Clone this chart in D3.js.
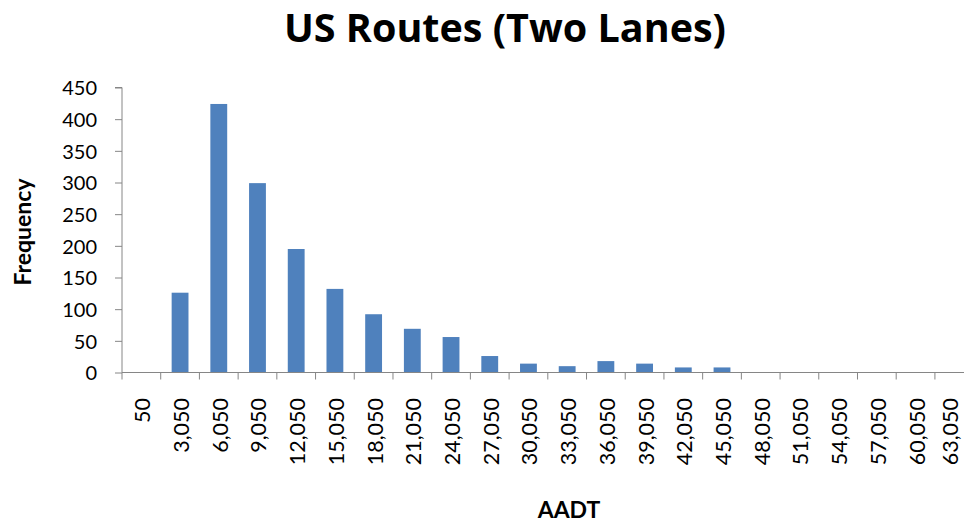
<!DOCTYPE html>
<html>
<head>
<meta charset="utf-8">
<script src="https://cdn.jsdelivr.net/npm/d3@7"></script>
<style>
  html, body { margin: 0; padding: 0; background: #fff; }
  svg { display: block; }
  text { font-family: Lato, "Open Sans", sans-serif; fill: #000; }
</style>
</head>
<body>
<svg id="chart" width="964" height="525"></svg>
<script>
// AADT bins (upper bin values) and their counts
const categories = ["50","3,050","6,050","9,050","12,050","15,050","18,050","21,050","24,050","27,050","30,050",
  "33,050","36,050","39,050","42,050","45,050","48,050","51,050","54,050","57,050","60,050","63,050"];
const frequency = [0,126,424,299,195,132,92,69,56,26,14,10,18,14,8,8,0,0,0,0,0,0];
const yTicks = [0,50,100,150,200,250,300,350,400,450];

const svg = d3.select("#chart");
const axisColor = "#868686";
const barColor = "#4F81BD";

const plotLeft = 122, plotBottom = 372.5, plotTop = 87.5;
const bandW = 38.71;

const x = d3.scaleBand()
  .domain(categories)
  .range([plotLeft, plotLeft + bandW * categories.length])
  .padding(0);

const y = d3.scaleLinear().domain([0, 450]).range([plotBottom, plotTop]);

// title
svg.append("text")
  .attr("x", 505).attr("y", 42)
  .attr("text-anchor", "middle")
  .style("font-family", "'Open Sans', sans-serif")
  .style("font-size", "39.5px").style("font-weight", "bold")
  .text("US Routes (Two Lanes)");

// y axis
const yAxis = svg.append("g")
  .attr("transform", `translate(${plotLeft},0)`)
  .call(d3.axisLeft(y).tickValues(yTicks).tickSize(7).tickPadding(18).tickFormat(d3.format("d")));
yAxis.select(".domain").attr("stroke", axisColor).attr("d", `M-7,${plotTop}H0V${plotBottom}`);
yAxis.selectAll(".tick line").attr("stroke", axisColor);
yAxis.selectAll(".tick text").style("font-size", "20px").style("font-family", "Lato, sans-serif").attr("fill", "#000").attr("dy", "0.36em");

// bars
svg.append("g").selectAll("rect")
  .data(categories.map((c, i) => ({ c, v: frequency[i] })))
  .join("rect")
  .attr("x", d => x(d.c) + x.bandwidth() * (1 - 0.435) / 2)
  .attr("width", x.bandwidth() * 0.435)
  .attr("y", d => y(d.v))
  .attr("height", d => y(0) - y(d.v))
  .attr("fill", barColor);

// x axis line and ticks on bin boundaries
const xg = svg.append("g");
xg.append("line")
  .attr("x1", plotLeft).attr("x2", 964)
  .attr("y1", plotBottom).attr("y2", plotBottom)
  .attr("stroke", axisColor);
const boundaries = categories.map(c => x(c)).concat([x.range()[1]]);
xg.selectAll("line.tk")
  .data(boundaries)
  .join("line").attr("class", "tk")
  .attr("x1", d => d).attr("x2", d => d)
  .attr("y1", plotBottom).attr("y2", plotBottom + 7)
  .attr("stroke", axisColor);

// rotated category labels; the last one is kept inside the right edge
xg.selectAll("text")
  .data(categories)
  .join("text")
  .attr("transform", d => {
    const cx = Math.min(x(d) + x.bandwidth() / 2 + 9, 958);
    return `translate(${cx},398) rotate(-90)`;
  })
  .attr("text-anchor", "end")
  .style("font-size", "21.5px")
  .text(d => d);

// axis titles
svg.append("text")
  .attr("transform", "translate(31,232) rotate(-90)")
  .attr("text-anchor", "middle")
  .style("font-size", "23px").style("font-weight", "bold")
  .text("Frequency");

svg.append("text")
  .attr("x", 569).attr("y", 518)
  .attr("text-anchor", "middle")
  .style("font-size", "23px").style("font-weight", "bold")
  .text("AADT");
</script>
</body>
</html>
